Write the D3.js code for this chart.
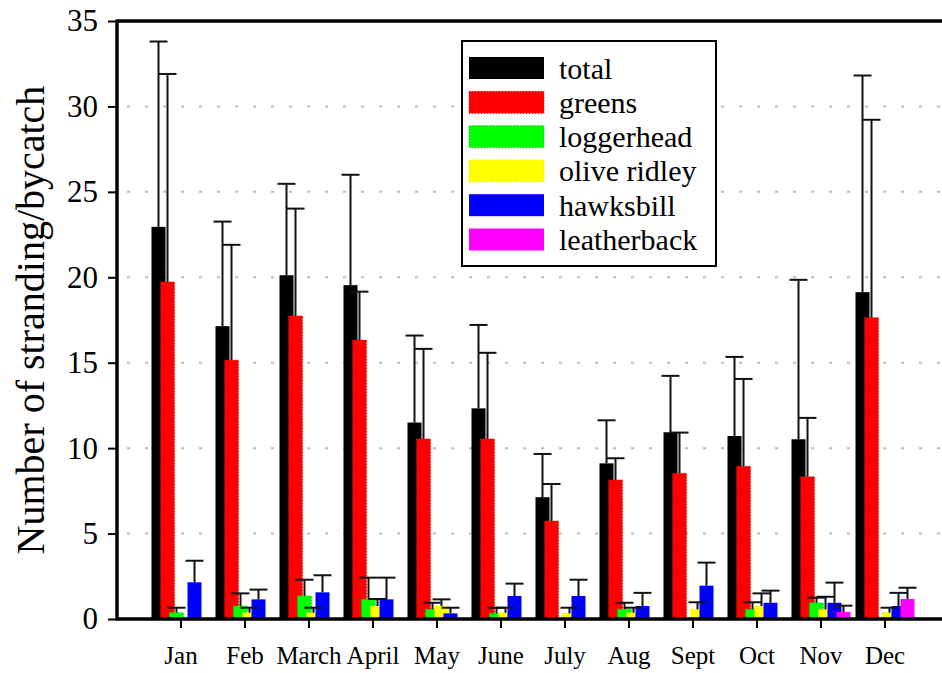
<!DOCTYPE html>
<html>
<head>
<meta charset="utf-8">
<script src="https://cdn.jsdelivr.net/npm/d3@7"></script>
<style>
  body { margin: 0; background: #fff; }
  svg { display: block; }
  svg text { font-family: "Liberation Serif", "Times New Roman", serif; fill: #000; }
</style>
</head>
<body>
<svg id="chart"></svg>
<script>
let w = 942
let h = 673

let months = ['Jan', 'Feb', 'March', 'April', 'May', 'June', 'July', 'Aug', 'Sept', 'Oct', 'Nov', 'Dec']
let seriesNames = ['total', 'greens', 'loggerhead', 'olive ridley', 'hawksbill', 'leatherback']
let seriesColors = ['#000000', '#ff0000', '#00ff00', '#ffff00', '#0000ff', '#ff00ff']
let seriesEdges = [null, '#d40000', '#00c800', '#d8d800', null, null]
let yTicks = [0, 5, 10, 15, 20, 25, 30, 35]

// means
let total       = [22.95, 17.14, 20.12, 19.54, 11.5, 12.33, 7.13, 9.11, 10.93, 10.71, 10.52, 19.13]
let greens      = [19.73, 15.15, 17.74, 16.33, 10.54, 10.54, 5.74, 8.14, 8.53, 8.94, 8.33, 17.64]
let loggerhead  = [0.37, 0.76, 1.35, 1.15, 0.57, 0.33, 0, 0.57, 0, 0.57, 0.95, 0]
let oliveRidley = [0, 0.37, 0.37, 0.76, 0.76, 0.37, 0.33, 0.37, 0.57, 0.76, 0.57, 0.37]
let hawksbill   = [2.15, 1.15, 1.56, 1.15, 0.33, 1.35, 1.35, 0.76, 1.95, 0.95, 0.95, 0.76]
let leatherback = [0, 0, 0, 0, 0, 0, 0, 0, 0, 0, 0.41, 1.17]

// upper error (sd)
let totalSd       = [10.85, 6.12, 5.35, 6.46, 5.09, 4.88, 2.53, 2.52, 3.3, 4.63, 9.33, 12.68]
let greensSd      = [12.17, 6.75, 6.28, 2.83, 5.27, 5.04, 2.16, 1.27, 2.38, 5.11, 3.44, 11.58]
let loggerheadSd  = [0.29, 0.74, 0.95, 1.27, 0.38, 0.33, 0, 0.38, 0, 0.41, 0.3, 0]
let oliveRidleySd = [0, 0.29, 0.29, 0.41, 0.39, 0.29, 0.33, 0.29, 0.41, 0.74, 0.73, 0.29]
let hawksbillSd   = [1.26, 0.57, 1.0, 1.27, 0.33, 0.72, 0.95, 0.77, 1.35, 0.71, 1.18, 0.77]
let leatherbackSd = [0, 0, 0, 0, 0, 0, 0, 0, 0, 0, 0.37, 0.66]

let values = [total, greens, loggerhead, oliveRidley, hawksbill, leatherback]
let errors = [totalSd, greensSd, loggerheadSd, oliveRidleySd, hawksbillSd, leatherbackSd]

let padLeft = 117
let padTop = 21
let baseY = 619

let svg = d3.select('#chart').attr('width', w).attr('height', h)

let xScale = d3.scaleBand().domain(months).range([149, 917])
let offset = d3.scaleLinear().domain([0, 5]).range([-29.5, 15.5])
let barW = 14
let yScale = d3.scaleLinear().domain([0, 35]).range([baseY, padTop])

// grid
svg.append('g')
   .selectAll('line')
   .data(yTicks.filter(t => t > 0 && t < 35))
   .enter()
   .append('line')
   .attr('x1', padLeft + 2)
   .attr('x2', w)
   .attr('y1', d => yScale(d))
   .attr('y2', d => yScale(d))
   .attr('stroke', '#bbbbbb')
   .attr('stroke-width', 2)
   .attr('stroke-dasharray', '3,15')
   .attr('stroke-dashoffset', -8)

// bars
let rows = []
values.forEach((arr, s) => {
   arr.forEach((v, i) => {
      rows.push({s: s, m: months[i], v: v, e: errors[s][i]})
   })
})

svg.append('g')
   .selectAll('rect')
   .data(rows.filter(d => d.v > 0))
   .enter()
   .append('rect')
   .attr('x', d => xScale(d.m) + xScale.bandwidth() / 2 + offset(d.s))
   .attr('y', d => yScale(d.v))
   .attr('width', barW)
   .attr('height', d => baseY - yScale(d.v))
   .attr('fill', d => seriesColors[d.s])
   .attr('stroke', d => seriesEdges[d.s] || 'none')
   .attr('stroke-width', 1)
   .attr('stroke-dasharray', '1,2')

// error bars
let errG = svg.append('g').attr('stroke', '#111').attr('stroke-width', 2)
rows.filter(d => d.e > 0).forEach(d => {
   let cx = xScale(d.m) + xScale.bandwidth() / 2 + offset(d.s) + barW / 2
   errG.append('line')
      .attr('x1', cx).attr('x2', cx)
      .attr('y1', yScale(d.v)).attr('y2', yScale(d.v + d.e))
   errG.append('line')
      .attr('x1', cx - 9).attr('x2', cx + 9)
      .attr('y1', yScale(d.v + d.e)).attr('y2', yScale(d.v + d.e))
})

// axes
let yAxis = d3.axisLeft(yScale).tickValues(yTicks).tickSize(9).tickPadding(10)
let yG = svg.append('g')
   .attr('transform', 'translate(' + padLeft + ',0)')
   .call(yAxis)
yG.attr('font-family', null)
yG.select('.domain').remove()
yG.selectAll('line').attr('stroke', '#000').attr('stroke-width', 2)
yG.selectAll('text').attr('font-size', 31).attr('fill', '#000')

let xAxis = d3.axisBottom(xScale).tickSize(9).tickPadding(18)
let xG = svg.append('g')
   .attr('transform', 'translate(0,' + baseY + ')')
   .call(xAxis)
xG.attr('font-family', null)
xG.select('.domain').remove()
xG.selectAll('line').attr('stroke', '#000').attr('stroke-width', 2)
xG.selectAll('text').attr('font-size', 25).attr('fill', '#000')

// frame
svg.append('line').attr('x1', padLeft).attr('x2', padLeft).attr('y1', padTop - 1.5).attr('y2', baseY + 1.5)
   .attr('stroke', '#000').attr('stroke-width', 3.5)
svg.append('line').attr('x1', padLeft).attr('x2', w).attr('y1', padTop).attr('y2', padTop)
   .attr('stroke', '#000').attr('stroke-width', 3.5)
svg.append('line').attr('x1', padLeft).attr('x2', w).attr('y1', baseY).attr('y2', baseY)
   .attr('stroke', '#000').attr('stroke-width', 3.5)

// y title
svg.append('text')
   .attr('transform', 'translate(44,' + ((padTop + baseY) / 2 + 0) + ') rotate(-90)')
   .attr('text-anchor', 'middle')
   .attr('font-size', 40)
   .text('Number of stranding/bycatch')

// legend
let lg = svg.append('g').attr('transform', 'translate(462,41)')
lg.append('rect')
   .attr('width', 254).attr('height', 225)
   .attr('fill', '#fff').attr('stroke', '#000').attr('stroke-width', 2)
seriesNames.forEach((name, i) => {
   lg.append('rect')
      .attr('x', 7).attr('y', 16 + i * 34.3)
      .attr('width', 75).attr('height', 22)
      .attr('fill', seriesColors[i])
      .attr('stroke', seriesEdges[i] || 'none')
      .attr('stroke-width', 1)
      .attr('stroke-dasharray', '1,2')
   lg.append('text')
      .attr('x', 97).attr('y', 27 + i * 34.3)
      .attr('dy', '0.35em')
      .attr('font-size', 30)
      .text(name)
})
</script>
</body>
</html>
